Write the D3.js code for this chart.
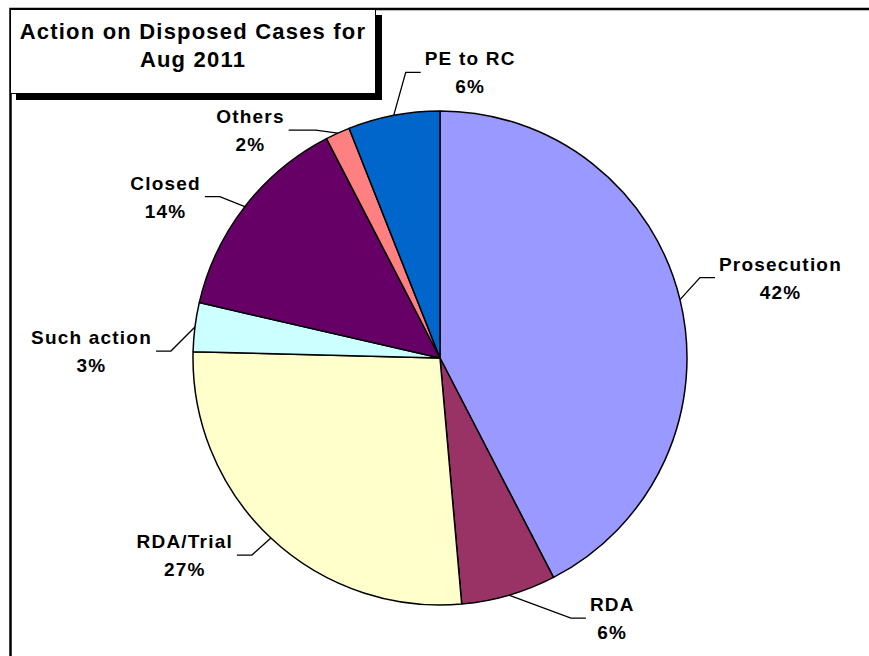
<!DOCTYPE html>
<html>
<head>
<meta charset="utf-8">
<script src="https://cdn.jsdelivr.net/npm/d3@7"></script>
<style>
  body { margin: 0; background: #fff; }
  svg text { font-family: "Liberation Sans", Arial, sans-serif; font-weight: bold; fill: #000; }
</style>
</head>
<body>
<div id="chart"></div>
<script>
// data (share of disposed cases, %)
var categories = ["Prosecution", "RDA", "RDA/Trial", "Such action", "Closed", "Others", "PE to RC"];
var shares = [42.4, 6.2, 26.8, 3.2, 13.8, 1.6, 6.0];
var sliceColors = ["#9999FF", "#993366", "#FFFFCC", "#CCFFFF", "#660066", "#FF8080", "#0066CC"];
var titleLines = ["Action on Disposed Cases for", "Aug 2011"];

// where each leader line bends, relative to the slice's edge point
var bend = [[20, -22], [62, 23], [-19, 17], [-24, 24], [-25, -10], [-22, -3], [12, -43]];
var tail = [15, 15, 15, 15, 15, 27, 15];

var width = 869, height = 656;
var cx = 440, cy = 358, radius = 247;

var svg = d3.select("#chart").append("svg")
    .attr("width", width)
    .attr("height", height);

// outer frame (runs off the right/bottom like the original)
svg.append("rect")
    .attr("x", 10.5).attr("y", 9)
    .attr("width", 900).attr("height", 700)
    .attr("fill", "#fff")
    .attr("stroke", "#000")
    .attr("stroke-width", 2.5);

var pie = d3.pie().sort(null).value(function(d){ return d; });
var arc = d3.arc().innerRadius(0).outerRadius(radius);
var arcs = pie(shares);

var g = svg.append("g").attr("transform", "translate(" + cx + "," + cy + ")");

g.selectAll("path.slice")
    .data(arcs)
    .enter().append("path")
    .attr("class", "slice")
    .attr("d", arc)
    .attr("fill", function(d, i){ return sliceColors[i]; })
    .attr("stroke", "#000")
    .attr("stroke-width", 1.5)
    .attr("stroke-linejoin", "round");

// labels + leader lines
var total = d3.sum(shares);
arcs.forEach(function(d, i){
    var mid = (d.startAngle + d.endAngle) / 2;
    var ex = radius * Math.sin(mid), ey = -radius * Math.cos(mid);
    var bx = ex + bend[i][0], by = ey + bend[i][1];
    var right = bend[i][0] > 0;
    var tx = bx + (right ? tail[i] : -tail[i]);

    g.append("polyline")
        .attr("points", [[ex, ey], [bx, by], [tx, by]].map(function(p){ return p.join(","); }).join(" "))
        .attr("fill", "none")
        .attr("stroke", "#000")
        .attr("stroke-width", 1.3);

    var t = g.append("text")
        .attr("text-anchor", "middle")
        .style("font-size", "19px")
        .style("letter-spacing", "1.2px");
    t.append("tspan").attr("x", 0).attr("y", by - 7).text(categories[i]);
    t.append("tspan").attr("x", 0).attr("y", by + 21).text(Math.round(shares[i] / total * 100) + "%");

    var w = t.node().getBBox().width;
    var center = right ? tx + 4 + w / 2 : tx - 4 - w / 2;
    t.selectAll("tspan").attr("x", center);
});

// title box with shadow
svg.append("rect")
    .attr("x", 16).attr("y", 15)
    .attr("width", 366).attr("height", 85)
    .attr("fill", "#000");
svg.append("rect")
    .attr("x", 10.5).attr("y", 9.5)
    .attr("width", 365).attr("height", 84)
    .attr("fill", "#fff")
    .attr("stroke", "#000")
    .attr("stroke-width", 1);

svg.append("g").selectAll("text")
    .data(titleLines)
    .enter().append("text")
    .attr("x", 193)
    .attr("y", function(d, i){ return 39 + i * 28; })
    .attr("text-anchor", "middle")
    .style("font-size", "22px")
    .style("letter-spacing", "1.2px")
    .text(function(d){ return d; });
</script>
</body>
</html>
